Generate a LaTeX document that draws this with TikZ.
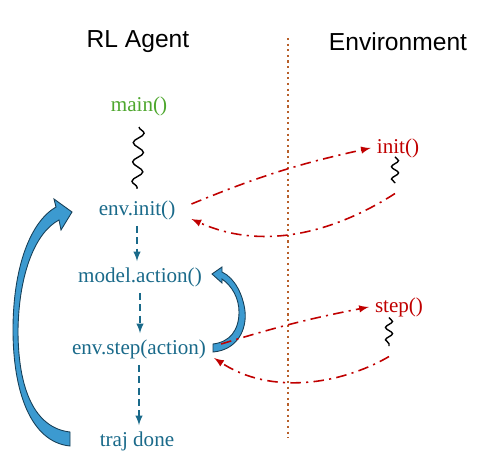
\documentclass[tikz,border=0pt]{standalone}
\usepackage{fontspec}
\setmainfont{Liberation Serif}
\newfontfamily\headfont{Liberation Sans}
\usetikzlibrary{decorations.pathmorphing}
\definecolor{agentblue}{HTML}{1A6A8A}
\definecolor{envred}{HTML}{C00000}
\definecolor{maingreen}{HTML}{4EA72E}
\definecolor{divbrown}{HTML}{B8602A}
\definecolor{loopfill}{HTML}{3C9AD0}
\definecolor{loopline}{HTML}{173F57}
\begin{document}
\begin{tikzpicture}[
    x=0.02cm, y=-0.02cm,
    every node/.style={font=\fontsize{12}{14}\selectfont},
    head/.style={font=\headfont\fontsize{14}{16}\selectfont},
    call/.style={text=agentblue},
    envcall/.style={text=envred},
    flow/.style={draw=agentblue, dash pattern=on 4pt off 2.5pt, line width=0.9pt, -latex},
    msg/.style={draw=envred, line width=0.9pt, dash pattern=on 6pt off 3pt on 1.2pt off 3pt, -latex},
    wave/.style={line width=0.8pt, decorate, decoration={snake, amplitude=3pt, segment length=11pt}},
    smallwave/.style={line width=0.8pt, decorate, decoration={snake, amplitude=2pt, segment length=7pt}},
    loop/.style={fill=loopfill, draw=loopline, line width=0.5pt}
]
\useasboundingbox (0,0) rectangle (499,470);

\node [head] (agent) at (138,42) {RL Agent};
\node [head] (env) at (398,42) {Environment};
\draw [divbrown, dotted, line width=1.2pt] (288,38) -- (288,438);

\node [text=maingreen] (main) at (139,106) {main()};
\node [call] (envinit) at (137,210) {env.init()};
\node [call] (action) at (140,277) {model.action()};
\node [call] (envstep) at (139,349) {env.step(action)};
\node [call] (done) at (137,441) {traj done};

\node [envcall] (init) at (398,148) {init()};
\node [envcall] (step) at (399,307) {step()};
\coordinate (initend) at (395,183);
\coordinate (stepend) at (389,346);

\draw [wave] ([yshift=-3pt]main.south) -- ([yshift=3pt]envinit.north);
\draw [smallwave] ([yshift=4pt]init.south -| initend) -- (initend);
\draw [smallwave] ([yshift=3pt]step.south -| stepend) -- (stepend);

\draw [flow] (envinit.south) -- (envinit.south |- action.north);
\draw [flow] (action.south) -- (action.south |- envstep.north);
\draw [flow] (envstep.south) -- (envstep.south |- done.north);

\draw [loop] (70,446) .. controls (30,442) and (13,390) .. (13,330)
    .. controls (13,268) and (30,222) .. (56,207) -- (54,199) -- (72,212) -- (61,230) -- (59,220)
    .. controls (36,232) and (19,272) .. (18,330) .. controls (18,390) and (35,428) .. (70,432) -- cycle;
\draw [loop] (213,352) .. controls (237,350) and (247,330) .. (245,311)
    .. controls (243,295) and (235,278) .. (222,272) -- (222,267) -- (212,274) -- (222,283) -- (222,279)
    .. controls (232,286) and (239,298) .. (239,312) .. controls (239,330) and (230,342) .. (213,344) -- cycle;

\draw [msg] ([shift={(10,-6)}]envinit.east) to[bend left=5] (init.west);
\draw [msg] ([yshift=-6pt]initend) .. controls (330,235) and (260,250) .. ([shift={(10,9)}]envinit.east);
\draw [msg] ([shift={(9,-5)}]envstep.east) to[bend left=3] (step.west);
\draw [msg] ([yshift=-6pt]stepend) .. controls (340,385) and (270,395) .. ([shift={(2,9)}]envstep.east);
\end{tikzpicture}
\end{document}
